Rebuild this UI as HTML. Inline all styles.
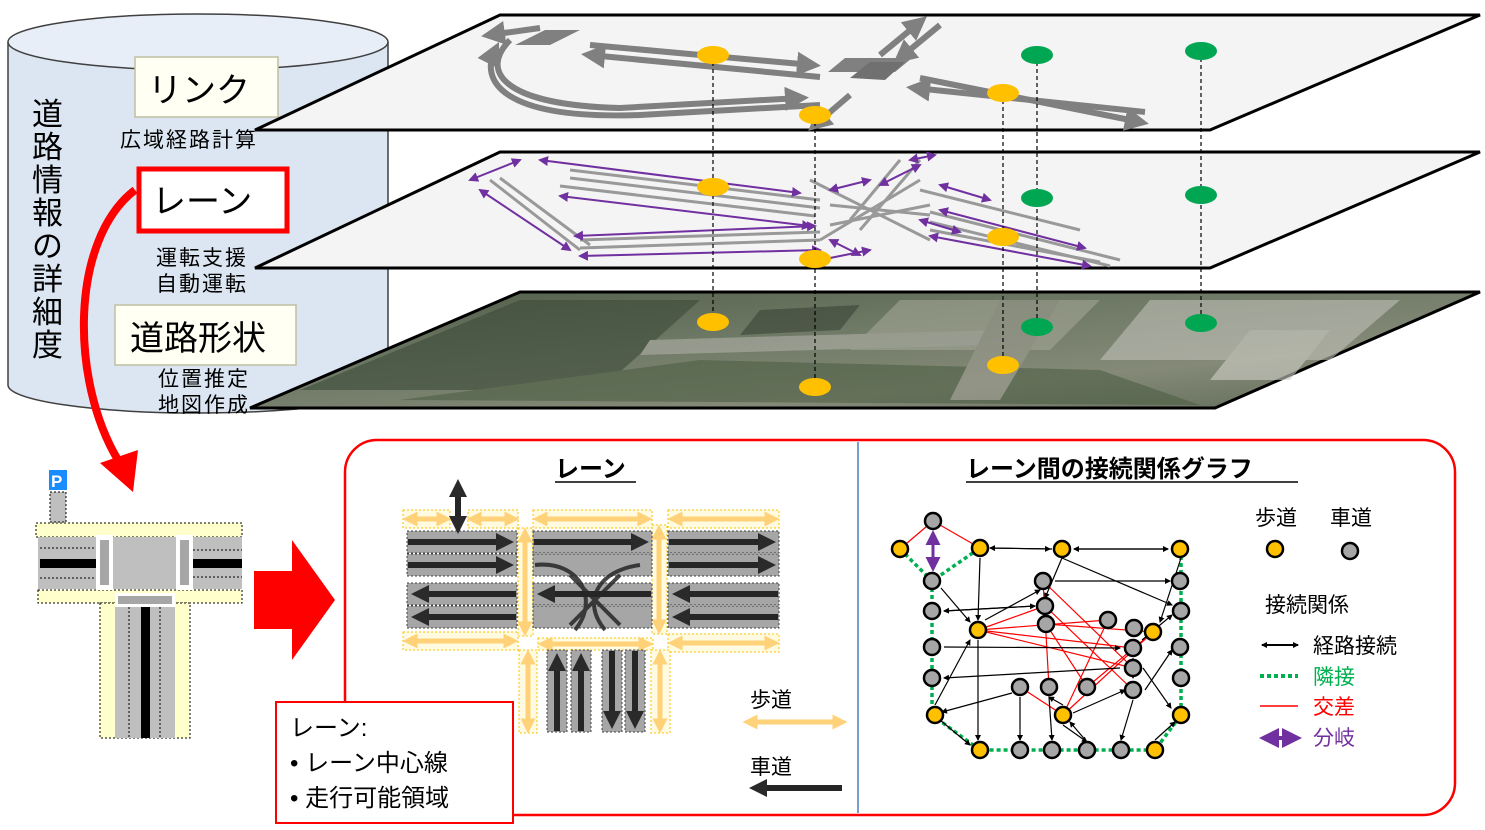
<!DOCTYPE html>
<html><head><meta charset="utf-8"><style>
html,body{margin:0;padding:0;background:#fff}
svg{display:block}
text{font-family:"Liberation Sans","Noto Sans CJK JP",sans-serif}
</style></head><body>
<svg width="1485" height="830" viewBox="0 0 1485 830" xmlns="http://www.w3.org/2000/svg">
<defs>
<marker id="ag" markerWidth="4" markerHeight="4" refX="2.5" refY="2" orient="auto"><path d="M0,0L4,2L0,4z" fill="#808080"/></marker>
<marker id="ap" markerWidth="5" markerHeight="5" refX="4" refY="2.5" orient="auto-start-reverse"><path d="M0,0L5,2.5L0,5z" fill="#7030a0"/></marker>
<marker id="ab" markerWidth="6" markerHeight="6" refX="5" refY="3" orient="auto-start-reverse" markerUnits="userSpaceOnUse"><path d="M0,0L6,3L0,6z" fill="#000"/></marker>
<marker id="ad" markerWidth="3" markerHeight="3" refX="1.5" refY="1.5" orient="auto"><path d="M0,0L3,1.5L0,3z" fill="#2a2a2a"/></marker>
<marker id="ay" markerWidth="3" markerHeight="3" refX="1.5" refY="1.5" orient="auto-start-reverse"><path d="M0,0L3,1.5L0,3z" fill="#ffd27a"/></marker>
<linearGradient id="aer" x1="0" y1="0" x2="1" y2="1"><stop offset="0" stop-color="#4f5c48"/><stop offset="0.4" stop-color="#6f7a66"/><stop offset="0.7" stop-color="#858a78"/><stop offset="1" stop-color="#5e6856"/></linearGradient>
</defs>

<!-- cylinder -->
<path d="M8,42 L8,385 A190,28 0 0 0 388,385 L388,42" fill="#dce6f2" stroke="#404040" stroke-width="1.5"/>
<ellipse cx="198" cy="42" rx="190" ry="28" fill="#e8eef8" stroke="#404040" stroke-width="1.5"/>
<g font-size="31" fill="#000">
<text x="32" y="125">道</text><text x="32" y="158">路</text><text x="32" y="191">情</text><text x="32" y="224">報</text><text x="32" y="257">の</text><text x="32" y="290">詳</text><text x="32" y="323">細</text><text x="32" y="356">度</text>
</g>
<rect x="135" y="57" width="143" height="60" fill="#fffff4" stroke="#bfbfa0" stroke-width="1.5"/>
<text x="148" y="102" font-size="34">リンク</text>
<text x="120" y="147" font-size="21" textLength="136">広域経路計算</text>
<rect x="139" y="169" width="148" height="62" fill="#fff" stroke="#ff0000" stroke-width="5"/>
<text x="152" y="213" font-size="34">レーン</text>
<text x="156" y="265" font-size="21" textLength="90">運転支援</text>
<text x="156" y="291" font-size="21" textLength="90">自動運転</text>
<rect x="115" y="305" width="181" height="60" fill="#fffff4" stroke="#bfbfa0" stroke-width="1.5"/>
<text x="130" y="350" font-size="34">道路形状</text>
<text x="158" y="386" font-size="21" textLength="90">位置推定</text>
<text x="158" y="412" font-size="21" textLength="90">地図作成</text>

<!-- planes -->
<polygon points="255,130 500,15 1480,15 1210,130" fill="#f4f4f4" stroke="#000" stroke-width="3"/>
<polygon points="255,268 500,152 1480,152 1210,268" fill="#f4f4f4" stroke="#000" stroke-width="3"/>
<polygon points="250,408 520,292 1480,292 1215,408" fill="url(#aer)" stroke="#000" stroke-width="3"/>
<g opacity="0.6">
<polygon points="300,390 520,300 700,300 600,390" fill="#3c4a38"/>
<polygon points="900,300 1100,300 1050,350 850,350" fill="#a3a595"/>
<polygon points="1150,300 1400,300 1330,360 1100,360" fill="#c0c0b8"/>
<polygon points="650,340 1000,330 990,345 640,355" fill="#b0b0a8"/>
<polygon points="400,400 700,360 1100,370 1200,405" fill="#4e5f45"/>
<polygon points="1000,300 1060,300 1000,400 950,400" fill="#9c9c90"/>
<polygon points="760,310 860,305 840,330 740,335" fill="#3a4436"/>
<polygon points="1250,330 1330,330 1290,380 1210,380" fill="#d0d0c8"/>
</g>

<!-- top plane link arrows -->
<g stroke="#808080" stroke-width="6" fill="none" marker-end="url(#ag)">
<line x1="590" y1="45" x2="812" y2="65"/>
<line x1="820" y1="77" x2="590" y2="55"/>
<line x1="920" y1="78" x2="1140" y2="122"/>
<line x1="1145" y1="112" x2="915" y2="88"/>
<line x1="880" y1="55" x2="920" y2="22"/>
<line x1="940" y1="25" x2="900" y2="58"/>
<line x1="850" y1="95" x2="815" y2="125"/>
<path d="M510,40 C480,70 500,105 620,108 L800,98"/>
<path d="M820,105 L640,115 C500,120 480,80 495,50"/>
<line x1="540" y1="28" x2="490" y2="35"/>
</g>
<polygon points="515,45 545,30 580,30 550,45" fill="#808080"/>
<polygon points="828,72 845,58 912,58 895,72" fill="#808080"/>
<polygon points="850,78 870,62 905,62 885,80" fill="#707070"/>

<!-- middle plane lanes -->
<g stroke="#999" stroke-width="3" fill="none">
<line x1="570" y1="170" x2="820" y2="200"/><line x1="570" y1="178" x2="820" y2="208"/><line x1="560" y1="186" x2="815" y2="216"/>
<line x1="580" y1="240" x2="820" y2="232"/><line x1="580" y1="248" x2="820" y2="240"/>
<line x1="930" y1="212" x2="1120" y2="260"/><line x1="930" y1="222" x2="1110" y2="266"/><line x1="930" y1="230" x2="1100" y2="262"/>
<line x1="920" y1="190" x2="1080" y2="230"/>
<line x1="490" y1="180" x2="580" y2="250"/><line x1="500" y1="178" x2="590" y2="245"/>
<line x1="810" y1="180" x2="930" y2="240"/><line x1="820" y1="240" x2="920" y2="180"/>
<line x1="900" y1="160" x2="850" y2="220"/><line x1="920" y1="160" x2="860" y2="230"/>
<line x1="830" y1="205" x2="930" y2="215"/><line x1="830" y1="225" x2="930" y2="205"/>
</g>
<g stroke="#7030a0" stroke-width="2" fill="none" marker-end="url(#ap)" marker-start="url(#ap)">
<line x1="540" y1="160" x2="800" y2="193"/><line x1="560" y1="196" x2="810" y2="226"/>
<line x1="575" y1="236" x2="815" y2="226"/><line x1="580" y1="256" x2="820" y2="250"/>
<line x1="470" y1="180" x2="520" y2="160"/><line x1="480" y1="190" x2="570" y2="250"/>
<line x1="940" y1="210" x2="1085" y2="248"/><line x1="930" y1="236" x2="1090" y2="266"/>
<line x1="910" y1="160" x2="935" y2="155"/><line x1="830" y1="190" x2="870" y2="180"/>
<line x1="940" y1="185" x2="990" y2="200"/><line x1="820" y1="260" x2="870" y2="250"/>
<line x1="880" y1="185" x2="920" y2="165"/><line x1="830" y1="240" x2="860" y2="255"/>
<line x1="920" y1="220" x2="960" y2="232"/>
</g>

<!-- dashed verticals -->
<g stroke="#000" stroke-width="1.2" stroke-dasharray="4,3">
<line x1="713" y1="55" x2="713" y2="322"/><line x1="815" y1="115" x2="815" y2="387"/>
<line x1="1003" y1="93" x2="1003" y2="365"/><line x1="1037" y1="55" x2="1037" y2="327"/>
<line x1="1201" y1="51" x2="1201" y2="323"/>
</g>
<g fill="#ffc000">
<ellipse cx="713" cy="55" rx="16" ry="9"/><ellipse cx="815" cy="115" rx="16" ry="9"/><ellipse cx="1003" cy="93" rx="16" ry="9"/>
<ellipse cx="713" cy="187" rx="16" ry="9"/><ellipse cx="815" cy="259" rx="16" ry="9"/><ellipse cx="1003" cy="237" rx="16" ry="9"/>
<ellipse cx="713" cy="322" rx="16" ry="9"/><ellipse cx="815" cy="387" rx="16" ry="9"/><ellipse cx="1003" cy="365" rx="16" ry="9"/>
</g>
<g fill="#00a651">
<ellipse cx="1037" cy="55" rx="16" ry="9"/><ellipse cx="1201" cy="51" rx="16" ry="9"/>
<ellipse cx="1037" cy="198" rx="16" ry="9"/><ellipse cx="1201" cy="195" rx="16" ry="9"/>
<ellipse cx="1037" cy="327" rx="16" ry="9"/><ellipse cx="1201" cy="323" rx="16" ry="9"/>
</g>

<!-- red curved arrow -->
<path d="M135,190 C70,240 70,380 118,460" stroke="#ff0000" stroke-width="8" fill="none"/>
<polygon points="100,463 138,450 133,492" fill="#ff0000"/>

<!-- intersection -->
<rect x="49" y="470" width="18" height="20" fill="#1a8cff"/><text x="51" y="487" font-size="17" font-weight="bold" fill="#fff">P</text>
<rect x="50" y="492" width="16" height="30" fill="#bfbfbf" stroke="#000" stroke-dasharray="2,2"/>
<rect x="36" y="523" width="206" height="14" fill="#ffffcc" stroke="#000" stroke-dasharray="2,2"/>
<rect x="38" y="537" width="204" height="52" fill="#bfbfbf"/>
<rect x="38" y="590" width="204" height="13" fill="#ffffcc" stroke="#000" stroke-dasharray="2,2"/>
<rect x="100" y="603" width="90" height="135" fill="#ffffcc" stroke="#000" stroke-dasharray="2,2"/>
<rect x="115" y="603" width="60" height="135" fill="#bfbfbf"/>
<rect x="40" y="559" width="56" height="9" fill="#000"/><rect x="192" y="559" width="50" height="9" fill="#000"/>
<rect x="141" y="607" width="9" height="131" fill="#000"/>
<rect x="96" y="535" width="17" height="55" fill="#fff"/><rect x="176" y="535" width="17" height="55" fill="#fff"/>
<rect x="115" y="593" width="60" height="14" fill="#fff"/>
<g fill="#a6a6a6"><rect x="100" y="540" width="9" height="45"/><rect x="180" y="540" width="9" height="45"/><rect x="118" y="596" width="54" height="8"/></g>
<g stroke="#000" stroke-dasharray="2,2" fill="none"><line x1="40" y1="548" x2="95" y2="548"/><line x1="40" y1="578" x2="95" y2="578"/><line x1="193" y1="550" x2="242" y2="550"/><line x1="193" y1="577" x2="242" y2="577"/><line x1="129" y1="607" x2="129" y2="738"/><line x1="160" y1="607" x2="160" y2="738"/></g>

<!-- big red arrow -->
<polygon points="254,571 292,571 292,540 335,600 292,660 292,629 254,629" fill="#ff0000"/>

<!-- red rounded box -->
<rect x="345" y="440" width="1110" height="375" rx="32" fill="#fff" stroke="#ff0000" stroke-width="2.5"/>
<line x1="858" y1="442" x2="858" y2="813" stroke="#4a7ebb" stroke-width="1.5"/>
<text x="555" y="477" font-size="24" font-weight="bold">レーン</text>
<line x1="555" y1="482" x2="636" y2="482" stroke="#000" stroke-width="1.5"/>
<text x="966" y="477" font-size="24" font-weight="bold">レーン間の接続関係グラフ</text>
<line x1="966" y1="482" x2="1298" y2="482" stroke="#000" stroke-width="1.5"/>

<!-- lanes -->
<g fill="#fffbe0" stroke="#ffc000" stroke-dasharray="2,2">
<rect x="403" y="510" width="47" height="18"/><rect x="468" y="510" width="50" height="18"/><rect x="533" y="510" width="119" height="18"/><rect x="668" y="510" width="111" height="18"/>
<rect x="403" y="632" width="115" height="18"/><rect x="538" y="638" width="115" height="12"/><rect x="668" y="634" width="111" height="18"/>
<rect x="518" y="528" width="15" height="108"/><rect x="652" y="525" width="15" height="109"/>
<rect x="519" y="650" width="18" height="83"/><rect x="651" y="650" width="19" height="83"/>
</g>
<g stroke="#ffd27a" stroke-width="5" marker-start="url(#ay)" marker-end="url(#ay)">
<line x1="410" y1="519" x2="444" y2="519"/><line x1="474" y1="519" x2="512" y2="519"/><line x1="540" y1="519" x2="645" y2="519"/><line x1="675" y1="519" x2="772" y2="519"/>
<line x1="410" y1="641" x2="511" y2="641"/><line x1="545" y1="644" x2="646" y2="644"/><line x1="675" y1="643" x2="772" y2="643"/>
<line x1="525" y1="535" x2="525" y2="629"/><line x1="659" y1="532" x2="659" y2="627"/>
<line x1="528" y1="657" x2="528" y2="726"/><line x1="660" y1="657" x2="660" y2="726"/>
<line x1="750" y1="722" x2="840" y2="722"/>
</g>
<g fill="#a6a6a6" stroke="#404040" stroke-dasharray="2,2">
<rect x="407" y="531" width="110" height="22"/><rect x="407" y="554" width="110" height="22"/><rect x="407" y="583" width="110" height="22"/><rect x="407" y="606" width="110" height="22"/>
<rect x="533" y="531" width="119" height="22"/><rect x="533" y="554" width="119" height="22"/><rect x="533" y="583" width="119" height="22"/><rect x="533" y="606" width="119" height="22"/>
<rect x="668" y="531" width="111" height="22"/><rect x="668" y="554" width="111" height="22"/><rect x="668" y="583" width="111" height="22"/><rect x="668" y="606" width="111" height="22"/>
<rect x="547" y="650" width="20" height="82"/><rect x="571" y="650" width="20" height="82"/><rect x="602" y="650" width="20" height="82"/><rect x="625" y="650" width="20" height="82"/>
</g>
<g stroke="#262626" stroke-width="6" marker-end="url(#ad)">
<line x1="408" y1="542" x2="505" y2="542"/><line x1="408" y1="565" x2="505" y2="565"/><line x1="516" y1="594" x2="420" y2="594"/><line x1="516" y1="617" x2="420" y2="617"/>
<line x1="534" y1="542" x2="640" y2="542"/><line x1="651" y1="594" x2="546" y2="594"/>
<line x1="669" y1="542" x2="767" y2="542"/><line x1="669" y1="565" x2="767" y2="565"/><line x1="778" y1="594" x2="681" y2="594"/><line x1="778" y1="617" x2="681" y2="617"/>
<line x1="557" y1="731" x2="557" y2="662"/><line x1="581" y1="731" x2="581" y2="662"/><line x1="612" y1="651" x2="612" y2="720"/><line x1="635" y1="651" x2="635" y2="720"/>
<line x1="842" y1="788" x2="758" y2="788"/>
<line x1="458" y1="500" x2="458" y2="488"/><line x1="458" y1="500" x2="458" y2="525"/>
</g>
<g stroke="#262626" stroke-width="4" fill="none" opacity="0.85">
<path d="M535,565 C580,560 600,600 575,630"/><path d="M640,565 C600,570 580,600 605,630"/><path d="M570,575 L620,625"/><path d="M620,575 L570,625"/>
</g>
<text x="750" y="707" font-size="21">歩道</text>
<text x="750" y="774" font-size="21">車道</text>

<!-- small red box -->
<rect x="276" y="702" width="237" height="121" fill="#fff" stroke="#ff0000" stroke-width="2"/>
<text x="290" y="736" font-size="24">レーン:</text>
<text x="290" y="771" font-size="24">•  レーン中心線</text>
<text x="290" y="806" font-size="24">•  走行可能領域</text>

<!-- graph -->
<g stroke="#00b050" stroke-width="3.5" stroke-dasharray="4,3" fill="none">
<path d="M900,549 L932,581 L980,548"/>
<path d="M932,581 L932,715 L980,750 L1155,750 L1181,715 L1181,549"/>
</g>
<g stroke="#ff0000" stroke-width="1.2">
<line x1="900" y1="549" x2="933" y2="521"/><line x1="980" y1="548" x2="933" y2="521"/>
<line x1="978" y1="630" x2="1045" y2="606"/><line x1="978" y1="630" x2="1133" y2="648"/><line x1="978" y1="630" x2="1133" y2="668"/><line x1="978" y1="630" x2="1108" y2="620"/>
<line x1="1043" y1="581" x2="1133" y2="668"/><line x1="1046" y1="624" x2="1153" y2="632"/><line x1="1046" y1="624" x2="1087" y2="687"/><line x1="1045" y1="606" x2="1133" y2="690"/>
<line x1="1063" y1="715" x2="1108" y2="620"/><line x1="1063" y1="715" x2="1153" y2="632"/><line x1="1087" y1="687" x2="1153" y2="632"/>
<line x1="1049" y1="687" x2="1043" y2="581"/><line x1="1020" y1="687" x2="1063" y2="715"/>
</g>
<g stroke="#000" stroke-width="1.2" marker-end="url(#ab)">
<line x1="990" y1="548" x2="1050" y2="549"/><line x1="1052" y1="549" x2="990" y2="548"/>
<line x1="1074" y1="549" x2="1168" y2="549"/><line x1="1168" y1="549" x2="1074" y2="549"/>
<line x1="980" y1="558" x2="978" y2="620"/><line x1="1062" y1="558" x2="1045" y2="598"/>
<line x1="985" y1="620" x2="1040" y2="590"/><line x1="1055" y1="581" x2="1170" y2="581"/>
<line x1="944" y1="611" x2="1035" y2="606"/><line x1="1035" y1="606" x2="944" y2="611"/>
<line x1="944" y1="647" x2="1120" y2="648"/><line x1="1120" y1="668" x2="944" y2="678"/>
<line x1="1145" y1="690" x2="1172" y2="650"/><line x1="1142" y1="640" x2="1172" y2="615"/>
<line x1="1062" y1="558" x2="1172" y2="605"/><line x1="1181" y1="558" x2="1160" y2="622"/>
<line x1="935" y1="705" x2="970" y2="640"/><line x1="978" y1="640" x2="978" y2="740"/>
<line x1="940" y1="720" x2="970" y2="745"/><line x1="1012" y1="693" x2="942" y2="712"/>
<line x1="1063" y1="705" x2="1049" y2="697"/><line x1="1063" y1="725" x2="1087" y2="742"/>
<line x1="1087" y1="742" x2="1070" y2="722"/><line x1="1133" y1="700" x2="1121" y2="740"/>
<line x1="1143" y1="668" x2="1171" y2="708"/><line x1="1155" y1="740" x2="1175" y2="722"/>
<line x1="1073" y1="713" x2="1125" y2="690"/><line x1="1020" y1="697" x2="1020" y2="740"/>
<line x1="1049" y1="697" x2="1052" y2="740"/>
<line x1="941" y1="588" x2="970" y2="622"/><line x1="1133" y1="658" x2="1133" y2="678"/>
</g>
<line x1="933" y1="533" x2="933" y2="569" stroke="#7030a0" stroke-width="3" marker-start="url(#ap)" marker-end="url(#ap)"/>
<g fill="#ffc000" stroke="#000" stroke-width="2.5">
<circle cx="900" cy="549" r="8"/><circle cx="980" cy="548" r="8"/><circle cx="1062" cy="549" r="8"/><circle cx="1180" cy="549" r="8"/>
<circle cx="978" cy="630" r="8"/><circle cx="1153" cy="632" r="8"/><circle cx="935" cy="715" r="8"/><circle cx="1063" cy="715" r="8"/>
<circle cx="1181" cy="715" r="8"/><circle cx="980" cy="750" r="8"/><circle cx="1155" cy="750" r="8"/>
<circle cx="1275" cy="549" r="8"/>
</g>
<g fill="#a6a6a6" stroke="#000" stroke-width="2.5">
<circle cx="933" cy="521" r="8"/><circle cx="932" cy="581" r="8"/><circle cx="1043" cy="581" r="8"/><circle cx="932" cy="611" r="8"/>
<circle cx="1045" cy="606" r="8"/><circle cx="1046" cy="624" r="8"/><circle cx="1180" cy="581" r="8"/><circle cx="1181" cy="611" r="8"/>
<circle cx="1108" cy="620" r="8"/><circle cx="1134" cy="628" r="8"/><circle cx="932" cy="647" r="8"/><circle cx="1180" cy="647" r="8"/>
<circle cx="1133" cy="648" r="8"/><circle cx="1133" cy="668" r="8"/><circle cx="1133" cy="690" r="8"/><circle cx="932" cy="678" r="8"/>
<circle cx="1181" cy="678" r="8"/><circle cx="1020" cy="687" r="8"/><circle cx="1049" cy="687" r="8"/><circle cx="1087" cy="687" r="8"/>
<circle cx="1020" cy="750" r="8"/><circle cx="1052" cy="750" r="8"/><circle cx="1087" cy="750" r="8"/><circle cx="1121" cy="750" r="8"/>
<circle cx="1350" cy="551" r="8"/>
</g>
<text x="1255" y="525" font-size="21">歩道</text>
<text x="1330" y="525" font-size="21">車道</text>
<text x="1265" y="612" font-size="21">接続関係</text>
<line x1="1262" y1="645" x2="1298" y2="645" stroke="#000" stroke-width="2" marker-start="url(#ab)" marker-end="url(#ab)"/>
<text x="1313" y="653" font-size="21">経路接続</text>
<line x1="1260" y1="676" x2="1298" y2="676" stroke="#00b050" stroke-width="4" stroke-dasharray="4,3"/>
<text x="1313" y="684" font-size="21" fill="#00b050">隣接</text>
<line x1="1260" y1="706" x2="1298" y2="706" stroke="#ff0000" stroke-width="1.5"/>
<text x="1313" y="714" font-size="21" fill="#ff0000">交差</text>
<line x1="1263" y1="738" x2="1298" y2="738" stroke="#7030a0" stroke-width="4" marker-start="url(#ap)" marker-end="url(#ap)"/>
<text x="1313" y="745" font-size="21" fill="#7030a0">分岐</text>
</svg>
</body></html>
